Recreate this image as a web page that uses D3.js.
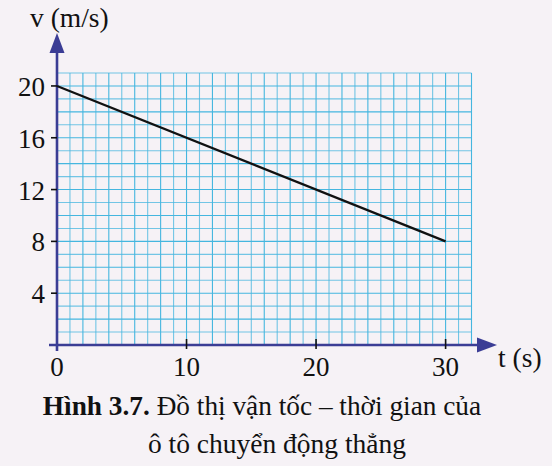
<!DOCTYPE html>
<html>
<head>
<meta charset="utf-8">
<script src="https://cdn.jsdelivr.net/npm/d3@7"></script>
<style>
  body { margin: 0; background: #f6f2f6; }
</style>
</head>
<body>
<script>
// data
var times = [0, 30];
var speeds = [20, 8];
var yTicks = [4, 8, 12, 16, 20];
var xTicks = [0, 10, 20, 30];
var xLabel = "t (s)";
var yLabel = "v (m/s)";

window.onload = drawChart();

function drawChart() {
    var width = 552,
        height = 466;
    var font = "'Liberation Serif'";

    var svg = d3.select("body")
        .append("svg")
        .attr("width", width)
        .attr("height", height);

    svg.append("rect")
        .attr("width", width)
        .attr("height", height)
        .attr("fill", "#f6f2f6");

    // 1 unit = ~12.95 px on both axes
    var x = d3.scaleLinear().domain([0, 32]).range([57, 471.5]);
    var y = d3.scaleLinear().domain([0, 21]).range([345, 73]);

    var axisColor = "#3b3d95";
    var gridColor = "#45b6df";

    // grid lines every 1 unit
    svg.selectAll(".vgrid")
        .data(d3.range(1, 33))
        .enter()
        .append("line")
        .attr("class", "vgrid")
        .attr("x1", function(d) { return x(d); })
        .attr("x2", function(d) { return x(d); })
        .attr("y1", y(0))
        .attr("y2", y(21))
        .attr("stroke", gridColor)
        .attr("stroke-opacity", function(d) { return d % 2 ? 0.75 : 1; })
        .attr("stroke-width", 1.1);

    svg.selectAll(".hgrid")
        .data(d3.range(1, 22))
        .enter()
        .append("line")
        .attr("class", "hgrid")
        .attr("x1", x(0))
        .attr("x2", x(32))
        .attr("y1", function(d) { return y(d); })
        .attr("y2", function(d) { return y(d); })
        .attr("stroke", gridColor)
        .attr("stroke-opacity", function(d) { return d % 2 ? 0.75 : 1; })
        .attr("stroke-width", 1.1);

    // axes
    svg.append("line")
        .attr("x1", 49).attr("x2", 480)
        .attr("y1", y(0)).attr("y2", y(0))
        .attr("stroke", axisColor).attr("stroke-width", 2.6);

    svg.append("line")
        .attr("x1", x(0)).attr("x2", x(0))
        .attr("y1", 351).attr("y2", 50)
        .attr("stroke", axisColor).attr("stroke-width", 2.6);

    // arrow heads
    svg.append("path")
        .attr("d", "M477,337.5 L497,345 L477,352.5 Z")
        .attr("fill", axisColor);

    svg.append("path")
        .attr("d", "M49.5,53 L57,33 L64.5,53 Z")
        .attr("fill", axisColor);

    // ticks
    svg.selectAll(".ytick")
        .data(yTicks)
        .enter()
        .append("line")
        .attr("x1", x(0) - 6).attr("x2", x(0))
        .attr("y1", function(d) { return y(d); })
        .attr("y2", function(d) { return y(d); })
        .attr("stroke", "#111").attr("stroke-width", 1.6);

    svg.selectAll(".xtick")
        .data(xTicks.slice(1))
        .enter()
        .append("line")
        .attr("x1", function(d) { return x(d); })
        .attr("x2", function(d) { return x(d); })
        .attr("y1", y(0) - 6).attr("y2", y(0) + 4)
        .attr("stroke", "#111").attr("stroke-width", 1.6);

    // tick labels
    svg.selectAll(".ylab")
        .data(yTicks)
        .enter()
        .append("text")
        .attr("x", 45)
        .attr("y", function(d) { return y(d) + 10; })
        .attr("text-anchor", "end")
        .attr("fill", "#111")
        .style("font-family", font)
        .style("font-size", "27px")
        .text(function(d) { return d; });

    svg.selectAll(".xlab")
        .data(xTicks)
        .enter()
        .append("text")
        .attr("x", function(d) { return x(d); })
        .attr("y", 376)
        .attr("text-anchor", "middle")
        .attr("fill", "#111")
        .style("font-family", font)
        .style("font-size", "27px")
        .text(function(d) { return d; });

    svg.append("text")
        .attr("x", 30).attr("y", 27)
        .attr("fill", "#111")
        .style("font-family", font)
        .style("font-size", "27.5px")
        .text(yLabel);

    svg.append("text")
        .attr("x", 498).attr("y", 367)
        .attr("fill", "#111")
        .style("font-family", font)
        .style("font-size", "27.5px")
        .text(xLabel);

    // the v(t) line
    var line = d3.line()
        .x(function(d) { return x(d[0]); })
        .y(function(d) { return y(d[1]); });

    svg.append("path")
        .datum(d3.zip(times, speeds))
        .attr("d", line)
        .attr("fill", "none")
        .attr("stroke", "#111")
        .attr("stroke-width", 2.3);

    // caption
    var cap1 = svg.append("text")
        .attr("x", 262).attr("y", 415)
        .attr("text-anchor", "middle")
        .attr("fill", "#111")
        .style("font-family", font)
        .style("font-size", "27.3px");
    cap1.append("tspan").style("font-weight", "bold").text("Hình 3.7. ");
    cap1.append("tspan").text("Đồ thị vận tốc – thời gian của");

    svg.append("text")
        .attr("x", 277).attr("y", 453)
        .attr("text-anchor", "middle")
        .attr("fill", "#111")
        .style("font-family", font)
        .style("font-size", "27.5px")
        .text("ô tô chuyển động thẳng");
}
</script>
</body>
</html>
